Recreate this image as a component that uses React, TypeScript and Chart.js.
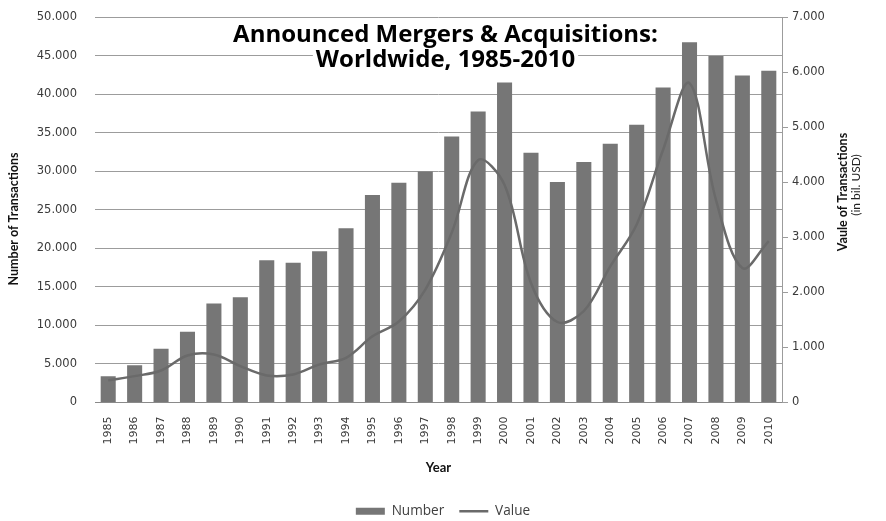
import React, { useEffect, useRef } from "react";
import { Chart, registerables } from "chart.js";

Chart.register(...registerables);

const YEARS = [
  "1985", "1986", "1987", "1988", "1989", "1990", "1991", "1992", "1993",
  "1994", "1995", "1996", "1997", "1998", "1999", "2000", "2001", "2002",
  "2003", "2004", "2005", "2006", "2007", "2008", "2009", "2010",
];

// Number of transactions (left axis)
const NUMBER_OF_TRANSACTIONS = [
  3400, 4830, 6950, 9150, 12820, 13640, 18430, 18130, 19600, 22580, 26900,
  28500, 29960, 34500, 37730, 41490, 32380, 28590, 31180, 33550, 36010, 40840,
  46720, 44950, 42400, 43040,
];

// Value of transactions in bil. USD (right axis)
const VALUE_OF_TRANSACTIONS = [
  400, 477, 580, 852, 870, 660, 490, 508, 690, 810, 1200, 1470, 2050, 3080,
  4400, 3950, 2170, 1460, 1660, 2470, 3230, 4590, 5800, 3680, 2440, 2930,
];

const LEFT_MAX = 50000;
const LEFT_STEP = 5000;
const RIGHT_MAX = 7000;
const RIGHT_STEP = 1000;

const TITLE_LINES = ["Announced Mergers & Acquisitions:", "Worldwide, 1985-2010"];
const LEFT_TITLE = "Number of Transactions";
const RIGHT_TITLE = ["Vaule of Transactions", "(in bil. USD)"];
const X_TITLE = "Year";
const SERIES_NAMES = ["Number", "Value"];

const fmt = (v: number | string) =>
  String(Math.round(Number(v))).replace(/\B(?=(\d{3})+(?!\d))/g, ".");

const TICK_FONT = { family: "'DejaVu Sans', Verdana, sans-serif", size: 11.5 };
const TICK_COLOR = "#3a3a3a";
const GRID_COLOR = "#9c9c9c";

const overlayText = {
  id: "overlayText",
  afterDraw(chart: any) {
    const ctx = chart.ctx as CanvasRenderingContext2D;
    const area = chart.chartArea;
    ctx.save();

    // Main title (overlaid on plot)
    ctx.font = "bold 24px 'Open Sans'";
    ctx.textAlign = "center";
    ctx.textBaseline = "alphabetic";
    const cx = (area.left + area.right) / 2 + 7;
    const baselines = [42, 67];
    TITLE_LINES.forEach((t, i) => {
      const w = ctx.measureText(t).width;
      ctx.fillStyle = "#ffffff";
      ctx.fillRect(cx - w / 2 - 3, baselines[i] - 18, w + 6, 24);
      ctx.fillStyle = "#000000";
      ctx.fillText(t, cx, baselines[i]);
    });

    // Left axis title
    ctx.save();
    ctx.translate(14, 219);
    ctx.rotate(-Math.PI / 2);
    ctx.textBaseline = "middle";
    ctx.font = "bold 12.5px Lato";
    ctx.fillStyle = "#111111";
    ctx.fillText(LEFT_TITLE, 0, 0);
    ctx.restore();

    // Right axis title (two lines)
    ctx.save();
    ctx.translate(843, 192);
    ctx.rotate(-Math.PI / 2);
    ctx.textBaseline = "middle";
    ctx.font = "bold 12.5px Lato";
    ctx.fillStyle = "#111111";
    ctx.fillText(RIGHT_TITLE[0], 0, 0);
    ctx.restore();

    ctx.save();
    ctx.translate(856, 185);
    ctx.rotate(-Math.PI / 2);
    ctx.textBaseline = "middle";
    ctx.font = "12px Lato";
    ctx.fillStyle = "#222222";
    ctx.fillText(RIGHT_TITLE[1], 0, 0);
    ctx.restore();

    ctx.restore();
  },
};

export default function App() {
  const canvasRef = useRef<HTMLCanvasElement | null>(null);

  useEffect(() => {
    if (!canvasRef.current) return;
    const chart = new Chart(canvasRef.current, {
      type: "bar",
      data: {
        labels: YEARS,
        datasets: [
          {
            type: "line",
            label: SERIES_NAMES[1],
            data: VALUE_OF_TRANSACTIONS,
            yAxisID: "y2",
            borderColor: "#6a6a6a",
            backgroundColor: "#6a6a6a",
            borderWidth: 2.5,
            pointRadius: 0,
            pointHoverRadius: 0,
            pointStyle: "line",
            tension: 0.35,
          } as any,
          {
            type: "bar",
            label: SERIES_NAMES[0],
            data: NUMBER_OF_TRANSACTIONS,
            yAxisID: "y",
            backgroundColor: "#767676",
            borderWidth: 0,
            barPercentage: 0.57,
            categoryPercentage: 1,
            pointStyle: "rect",
          } as any,
        ],
      },
      options: {
        animation: false,
        responsive: false,
        devicePixelRatio: 1,
        layout: { padding: { top: 17, bottom: -7, left: 0, right: 0 } },
        plugins: {
          tooltip: { enabled: false },
          legend: {
            position: "bottom",
            labels: {
              usePointStyle: true,
              pointStyleWidth: 29,
              boxHeight: 7,
              padding: 15,
              color: "#404040",
              font: { family: "'Open Sans'", size: 13.6 },
              sort: (a: any, b: any) => b.datasetIndex - a.datasetIndex,
            },
          },
        },
        scales: {
          x: {
            grid: { display: false, drawTicks: false },
            border: { display: true, color: "#8a8a8a" },
            ticks: {
              minRotation: 90,
              maxRotation: 90,
              autoSkip: false,
              padding: 14,
              font: { family: "'DejaVu Sans', Verdana, sans-serif", size: 11 },
              color: TICK_COLOR,
            },
            title: {
              display: true,
              text: X_TITLE,
              color: "#111111",
              font: { family: "Lato", size: 13, weight: "bold" },
              padding: { top: 0, bottom: 14 },
            },
            afterFit: (s: any) => {
              s.height = 87;
            },
          },
          y: {
            position: "left",
            min: 0,
            max: LEFT_MAX,
            ticks: {
              stepSize: LEFT_STEP,
              callback: (v: any) => fmt(v),
              padding: 0,
              font: TICK_FONT,
              color: TICK_COLOR,
            },
            grid: {
              color: GRID_COLOR,
              drawTicks: true,
              tickLength: 18,
              tickColor: "rgba(0,0,0,0)",
              lineWidth: 1,
            },
            border: { display: false },
            afterFit: (s: any) => {
              s.width = 95;
            },
          },
          y2: {
            position: "right",
            min: 0,
            max: RIGHT_MAX,
            ticks: {
              stepSize: RIGHT_STEP,
              callback: (v: any) => fmt(v),
              padding: 4,
              font: TICK_FONT,
              color: TICK_COLOR,
            },
            grid: {
              drawOnChartArea: false,
              drawTicks: true,
              tickLength: 6,
              color: GRID_COLOR,
            },
            border: { display: true, color: GRID_COLOR },
            afterFit: (s: any) => {
              s.width = 104;
            },
          },
        },
      } as any,
      plugins: [overlayText],
    });
    return () => chart.destroy();
  }, []);

  return (
    <div
      style={{
        position: "fixed",
        left: 0,
        top: 0,
        width: 886,
        height: 521,
        background: "#ffffff",
      }}
    >
      <canvas ref={canvasRef} width={886} height={521} />
    </div>
  );
}
